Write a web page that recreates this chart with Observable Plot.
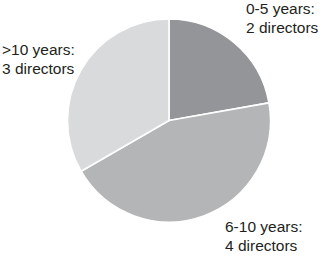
<!DOCTYPE html>
<html>
<head>
<meta charset="utf-8">
<script src="https://cdn.jsdelivr.net/npm/d3@7"></script>
<script src="https://cdn.jsdelivr.net/npm/@observablehq/plot@0.6"></script>
<style>
  html, body { margin: 0; padding: 0; background: #fff; }
  #chart svg { display: block; }
</style>
</head>
<body>
<div id="chart"></div>
<script>
// Data
const categories = ["0-5 years", "6-10 years", ">10 years"];
const directors = [2, 4, 3];
const labelLine1 = ["0-5 years:", "6-10 years:", ">10 years:"];
const labelLine2 = ["2 directors", "4 directors", "3 directors"];

// Styles / layout (kept separate from data)
const colors = ["#939598", "#b4b5b7", "#d9dadb"];
const labelPos = [[245.5, 0], [224.5, 217.7], [1.5, 41.3]]; // pixel [x, top]
const W = 322, H = 258;
const cx = 169, cy = 120.5, R = 101.5;

const data = categories.map((c, i) => ({
  category: c, value: directors[i],
  label: labelLine1[i] + "\n" + labelLine2[i],
  color: colors[i], lx: labelPos[i][0], ly: labelPos[i][1]
}));

const pie = d3.pie().sort(null).value(d => d.value);
const arcs = pie(data);
const arcGen = d3.arc().innerRadius(0).outerRadius(R);

const pieMark = Plot.dot(arcs, {
  x: () => cx, y: () => cy,
  render: (index, scales, values, dimensions, context) => {
    const g = d3.create("svg:g");
    const px = scales.x(cx), py = scales.y(cy);
    g.attr("transform", `translate(${px},${py})`);
    const sel = Array.from(index, i => arcs[i]);
    for (const a of sel) {
      g.append("path")
        .attr("d", arcGen(a))
        .attr("fill", a.data.color)
        .attr("stroke", "#ffffff")
        .attr("stroke-width", 1.6)
        .attr("stroke-linejoin", "round");
    }
    return g.node();
  }
});

const chart = Plot.plot({
  width: W, height: H,
  margin: 0,
  x: {domain: [0, W], range: [0, W], axis: null},
  y: {domain: [0, H], range: [0, H], axis: null},
  style: {fontFamily: "'Liberation Sans', Arial, sans-serif", background: "#fff"},
  marks: [
    pieMark,
    Plot.text(data, {
      x: "lx", y: "ly", text: "label",
      textAnchor: "start", lineAnchor: "top",
      fontSize: 15.5, lineHeight: 1.226, fill: "#231f20"
    })
  ]
});
document.getElementById("chart").appendChild(chart);
</script>
</body>
</html>
